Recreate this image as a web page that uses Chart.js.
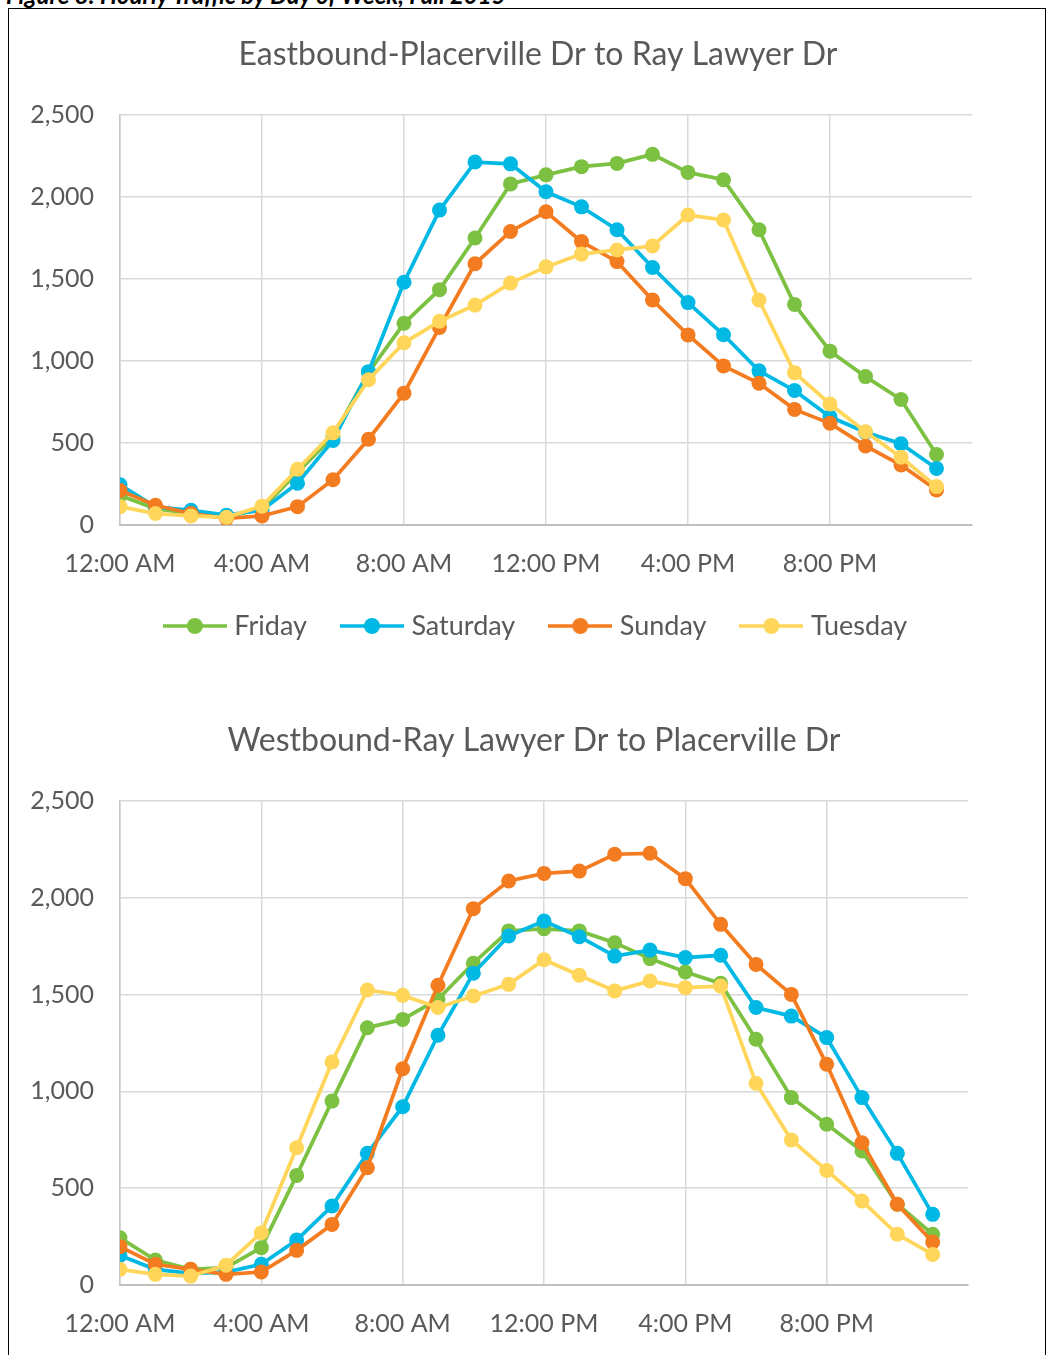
<!DOCTYPE html>
<html>
<head>
<meta charset="utf-8">
<script src="https://cdn.jsdelivr.net/npm/chart.js@4/dist/chart.umd.min.js"></script>
<style>
  html, body { margin: 0; padding: 0; background: #fff; overflow: hidden; }
  #page { position: relative; width: 1053px; height: 1355px; overflow: hidden; background: #fff; }
  #caption { position: absolute; left: 6px; top: -20px; font: italic bold 24px Lato, sans-serif; color: #000; white-space: nowrap; }
  #frame { position: absolute; left: 8px; top: 8px; width: 1036px; height: 1400px; border: 1px solid #000; }
  .box { position: absolute; left: 0; width: 1110px; }
</style>
</head>
<body>
<div id="page">
  <div id="caption">Figure 8: Hourly Traffic by Day of Week, Fall 2015</div>
  <div id="frame"></div>
  <div class="box" style="top:0px;height:680px"><canvas id="eastChart"></canvas></div>
  <div class="box" style="top:686px;height:754px"><canvas id="westChart"></canvas></div>
</div>
<script>
// hours of the day, 0 = midnight
const hours = [0,1,2,3,4,5,6,7,8,9,10,11,12,13,14,15,16,17,18,19,20,21,22,23];
const xTickLabels = ['12:00 AM', '4:00 AM', '8:00 AM', '12:00 PM', '4:00 PM', '8:00 PM'];
const dayNames = ['Friday', 'Saturday', 'Sunday', 'Tuesday'];
const dayColors = ['#7cc142', '#00b8e4', '#f47c20', '#ffd65a'];

// Eastbound - Placerville Dr to Ray Lawyer Dr
const eastFriday   = [180,100,70,50,100,320,540,930,1230,1435,1750,2080,2135,2185,2205,2260,2150,2105,1800,1345,1060,905,765,430];
const eastSaturday = [245,110,90,60,90,255,515,935,1480,1920,2213,2202,2032,1940,1800,1570,1356,1160,940,820,660,565,495,345];
const eastSunday   = [210,120,70,40,55,112,276,523,804,1205,1593,1790,1910,1728,1606,1372,1159,970,864,705,620,482,366,213];
const eastTuesday  = [112,70,55,47,115,340,562,886,1111,1242,1341,1475,1574,1652,1677,1701,1890,1860,1372,929,738,569,413,234];

// Westbound - Ray Lawyer Dr to Placerville Dr
const westFriday   = [244,129,81,90,193,566,950,1329,1372,1476,1662,1829,1840,1829,1768,1686,1617,1558,1269,968,830,692,417,262];
const westSaturday = [153,81,60,67,107,232,408,680,921,1290,1610,1803,1880,1799,1699,1730,1691,1703,1433,1389,1278,968,680,365];
const westSunday   = [198,107,81,55,67,179,313,606,1117,1548,1944,2087,2126,2138,2225,2230,2099,1863,1656,1501,1140,735,417,222];
const westTuesday  = [81,55,46,102,270,709,1152,1524,1496,1433,1493,1553,1680,1600,1519,1570,1536,1544,1042,749,592,434,262,158];

const textColor = '#595959';
const fontName = 'Lato, sans-serif';

// little line + dot pictures for the legend
function legendIcon(color) {
    const c = document.createElement('canvas');
    c.width = 64; c.height = 18;
    const g = c.getContext('2d');
    g.strokeStyle = color;
    g.lineWidth = 3.5;
    g.beginPath(); g.moveTo(0, 9); g.lineTo(64, 9); g.stroke();
    g.fillStyle = color;
    g.beginPath(); g.arc(32, 9, 8, 0, Math.PI * 2); g.fill();
    return c;
}
const icons = dayColors.map(legendIcon);

function makeDatasets(series) {
    return series.map(function (vals, i) {
        return {
            label: dayNames[i],
            data: hours.map(function (h, j) { return { x: h, y: vals[j] }; }),
            borderColor: dayColors[i],
            backgroundColor: dayColors[i],
            borderWidth: 3.75,
            pointRadius: 7.5,
            pointHoverRadius: 7.5,
            pointBorderWidth: 0,
            tension: 0,
            order: 3 - i   // later series drawn on top, like the original
        };
    });
}

// spareRight: empty room right of the plot, so title and legend sit where the original has them
function makeChart(id, title, series, rightPad, spareRight) {
    const ctx = document.getElementById(id).getContext('2d');
    return new Chart(ctx, {
        type: 'line',
        data: { datasets: makeDatasets(series) },
        options: {
            responsive: true,
            maintainAspectRatio: false,
            animation: false,
            devicePixelRatio: 1,
            layout: { padding: { left: 0, right: rightPad, top: 0, bottom: 30.5 } },
            plugins: {
                tooltip: { enabled: false },
                title: {
                    display: true,
                    text: title,
                    color: textColor,
                    font: { family: fontName, size: 32, weight: 'normal' },
                    padding: { top: 35.8, bottom: 40.8 }
                },
                legend: {
                    position: 'bottom',
                    labels: {
                        color: textColor,
                        font: { family: fontName, size: 27 },
                        usePointStyle: true,
                        pointStyleWidth: 52,
                        padding: 39,
                        sort: function (a, b) { return a.datasetIndex - b.datasetIndex; },
                        generateLabels: function (chart) {
                            const items = Chart.defaults.plugins.legend.labels.generateLabels(chart);
                            items.forEach(function (it) { it.pointStyle = icons[it.datasetIndex]; });
                            return items;
                        }
                    }
                }
            },
            scales: {
                x: {
                    type: 'linear',
                    min: 0,
                    max: 24,
                    afterFit: function (scale) { scale.height = 48.5; },
                    ticks: {
                        stepSize: 4,
                        maxRotation: 0,
                        padding: 24,
                        color: textColor,
                        font: { family: fontName, size: 25 },
                        callback: function (v) { return xTickLabels[v / 4] || ''; }
                    },
                    grid: {
                        drawTicks: false,
                        lineWidth: 1.5,
                        color: function (c) { return c.tick && c.tick.value === 24 ? 'rgba(0,0,0,0)' : '#d9d9d9'; }
                    },
                    border: { display: true, color: '#bfbfbf', width: 2 }
                },
                y: {
                    min: 0,
                    max: 2500,
                    afterFit: function (scale) { scale.width = 120; },
                    ticks: {
                        stepSize: 500,
                        padding: 26,
                        color: textColor,
                        font: { family: fontName, size: 25 },
                        callback: function (v) { return v.toLocaleString('en-US'); }
                    },
                    grid: { drawTicks: false, lineWidth: 1.5, color: '#d9d9d9' },
                    border: { display: true, color: '#c8c8c8', width: 1.5 }
                },
                spare: {
                    position: 'right',
                    min: 0,
                    max: 1,
                    afterFit: function (scale) { scale.width = spareRight; },
                    ticks: { display: false },
                    grid: { display: false, drawOnChartArea: false },
                    border: { display: false }
                }
            }
        }
    });
}

makeChart('eastChart', 'Eastbound-Placerville Dr to Ray Lawyer Dr',
    [eastFriday, eastSaturday, eastSunday, eastTuesday], 34, 104);
makeChart('westChart', 'Westbound-Ray Lawyer Dr to Placerville Dr',
    [westFriday, westSaturday, westSunday, westTuesday], 42, 100);
</script>
</body>
</html>
